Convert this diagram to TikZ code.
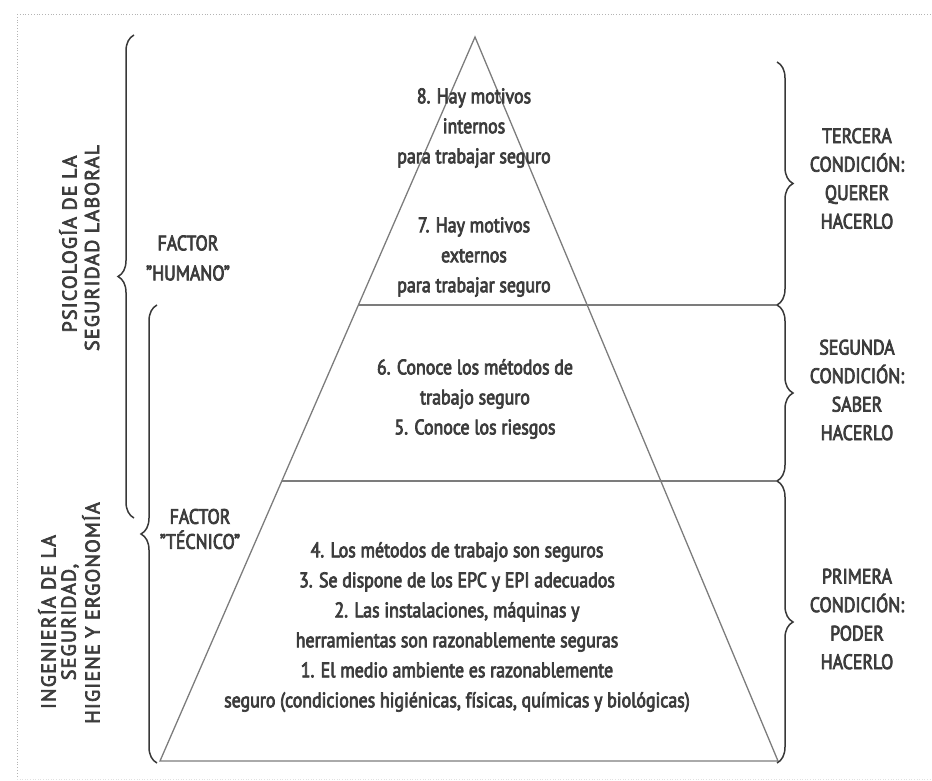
\documentclass[tikz,border=0pt]{standalone}
\usepackage{fontspec}
\setmainfont{PT Sans}[FakeStretch=0.85,FakeBold=3.5]
\newfontfamily\spacedfont{PT Sans}[LetterSpace=6,FakeBold=3.5]
\usetikzlibrary{decorations.pathreplacing}
\definecolor{txt}{HTML}{3C3C3C}
\definecolor{lnc}{HTML}{7C7C7C}
\definecolor{brc}{HTML}{383838}
\definecolor{dotc}{HTML}{B4B4B4}
\begin{document}
\begin{tikzpicture}[x=1pt,y=-1pt,
  lbl/.style={text=txt,align=center,inner sep=0pt,font=\fontsize{21}{30}\selectfont},
  side/.style={text=txt,align=center,inner sep=0pt,font=\fontsize{21}{28.5}\selectfont},
  vert/.style={text=txt,inner sep=0pt,rotate=90,font=\spacedfont\fontsize{20}{22}\selectfont},
  edge/.style={draw=lnc,line width=1.3pt},
  curly/.style={draw=brc,line width=1.5pt,decorate,decoration={brace,amplitude=16pt}},
  frame/.style={draw=dotc,dotted,line width=0.8pt}]
\useasboundingbox (0,0) rectangle (932,781);
% frame
\draw[frame] (17,14) -- (932,14);
\draw[frame] (17,14) -- (17,778);
\draw[draw=dotc!40,dotted,line width=0.6pt] (17,779) -- (932,779);
% pyramid
\coordinate (apex) at (475,37);
\coordinate (bl) at (160,761);
\coordinate (br) at (778,761);
\coordinate (l1) at (358.5,305);
\coordinate (r1) at (777,305);
\coordinate (l2) at (282,481);
\coordinate (r2) at (777,481);
\draw[edge,line join=miter] (apex) -- (bl) -- (br) -- cycle;
\draw[edge] (l1) -- (r1);
\draw[edge] (l2) -- (r2);
% right braces
\coordinate (rb0) at (777,62);
\coordinate (rb1) at (777,305);
\coordinate (rb2) at (777,481);
\coordinate (rb3) at (777,763);
\draw[curly] (rb0) -- (rb1);
\draw[curly] (rb1) -- (rb2);
\draw[curly] (rb2) -- (rb3);
% left braces
\coordinate (lbA1) at (134,35);
\coordinate (lbA2) at (134,518);
\coordinate (lbB1) at (157,305);
\coordinate (lbB2) at (157,763);
\draw[curly] (lbA2) -- (lbA1);
\draw[curly] (lbB2) -- (lbB1);
% pyramid texts
\node[lbl] (t8) at (474,128) {8. Hay motivos\\internos\\para trabajar seguro};
\node[lbl] (t7) at (474,257) {7. Hay motivos\\externos\\para trabajar seguro};
\node[lbl] (t65) at (475,399) {6. Conoce los métodos de\\trabajo seguro\\5. Conoce los riesgos};
\node[lbl] (t41) at (457,627) {4. Los métodos de trabajo son seguros\\3. Se dispone de los EPC y EPI adecuados\\2. Las instalaciones, máquinas y\\herramientas son razonablemente seguras\\1. El medio ambiente es razonablemente\\seguro (condiciones higiénicas, físicas, químicas y biológicas)};
% right texts
\node[side] (c3) at (857,178.5) {TERCERA\\CONDICIÓN:\\QUERER\\HACERLO};
\node[side] (c2) at (857,390) {SEGUNDA\\CONDICIÓN:\\SABER\\HACERLO};
\node[side] (c1) at (857,619) {PRIMERA\\CONDICIÓN:\\PODER\\HACERLO};
% left texts
\node[lbl] (fh) at (188,258) {FACTOR\\''HUMANO''};
\node[lbl,font=\fontsize{21}{25}\selectfont] (ft) at (200,529) {FACTOR\\''TÉCNICO''};
\node[vert] (psi1) at (68,244) {PSICOLOGÍA DE LA};
\node[vert] (psi2) at (92,248) {SEGURIDAD LABORAL};
\node[vert] (ing1) at (47,622) {INGENIERÍA DE LA};
\node[vert] (ing2) at (70,622) {SEGURIDAD,};
\node[vert] (ing3) at (91,613) {HIGIENE Y ERGONOMÍA};
\end{tikzpicture}
\end{document}
